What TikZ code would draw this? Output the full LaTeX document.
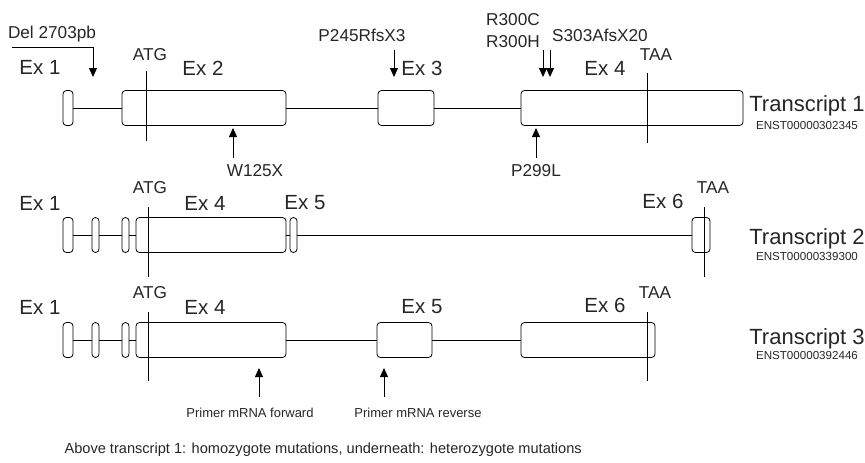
\documentclass[tikz,border=0pt]{standalone}
\usepackage{fontspec}
\setmainfont{Liberation Sans}
\usepackage{tikz}
\usetikzlibrary{arrows.meta,positioning}
\tikzset{
	exon/.style={
		draw, rectangle, rounded corners=3.5pt, line width=0.8pt,
		minimum height=35pt, inner sep=0pt
	},
	intron/.style={line width=0.8pt},
	site_line/.style={line width=0.8pt},
	mut_arrow/.style={-{Triangle[length=9pt,width=8pt]}, line width=0.8pt},
	ex_label/.style={font=\fontsize{20.5}{22}\selectfont, text=black!85},
	site_label/.style={font=\fontsize{17.2}{19}\selectfont, text=black!85},
	tr_label/.style={font=\fontsize{22}{24}\selectfont, text=black!85},
	id_label/.style={font=\fontsize{11.6}{13}\selectfont, text=black!85},
	small_label/.style={font=\fontsize{13}{15}\selectfont, text=black!85},
	note_label/.style={font=\fontsize{14.6}{16}\selectfont, text=black!85}
}
\begin{document}
\begin{tikzpicture}[x=1pt,y=-1pt]
	\useasboundingbox (0,0) rectangle (865,463);
	% transcript 1
	\node[exon,minimum width=10pt]  (t1e1) at (68,108) {};
	\node[exon,minimum width=164pt] (t1e2) at (204,108) {};
	\node[exon,minimum width=56pt]  (t1e3) at (406,108) {};
	\node[exon,minimum width=222pt] (t1e4) at (632,108) {};
	\draw[intron] (t1e1) -- (t1e2) -- (t1e3) -- (t1e4);
	\node[ex_label] (t1x1) at (40,67) {Ex 1};
	\node[ex_label] (t1x2) at (203,68) {Ex 2};
	\node[ex_label] (t1x3) at (422,68) {Ex 3};
	\node[ex_label] (t1x4) at (605,68) {Ex 4};
	\node[site_label] (t1atg) at (150,55) {ATG};
	\node[site_label] (t1taa) at (656,55) {TAA};
	\coordinate (t1atga) at (146,71);  \coordinate (t1atgb) at (146,141);
	\coordinate (t1taaa) at (647,73);  \coordinate (t1taab) at (647,143);
	\draw[site_line] (t1atga) -- (t1atgb);
	\draw[site_line] (t1taaa) -- (t1taab);
	\node[tr_label] (tr1) at (807,106) {Transcript 1};
	\node[id_label] (id1) at (807,126) {ENST00000302345};
	% homozygote mutations
	\node[site_label] (del) at (52,34) {Del 2703pb};
	\coordinate (dela) at (12,47); \coordinate (delb) at (93,47); \coordinate (delc) at (93,77);
	\draw[mut_arrow] (dela) -- (delb) -- (delc);
	\node[site_label] (m245) at (362,35) {P245RfsX3};
	\coordinate (m245a) at (394,50); \coordinate (m245b) at (394,77);
	\draw[mut_arrow] (m245a) -- (m245b);
	\node[site_label] (m300c) at (513,20) {R300C};
	\node[site_label] (m300h) at (513,42) {R300H};
	\coordinate (m300a) at (543,50); \coordinate (m300b) at (543,77);
	\coordinate (m300c2) at (550,50); \coordinate (m300d) at (550,77);
	\draw[mut_arrow] (m300a) -- (m300b);
	\draw[mut_arrow] (m300c2) -- (m300d);
	\node[site_label] (m303) at (600,35) {S303AfsX20};
	% heterozygote mutations
	\node[site_label] (m125) at (255,171) {W125X};
	\coordinate (m125a) at (233,158); \coordinate (m125b) at (233,128);
	\draw[mut_arrow] (m125a) -- (m125b);
	\node[site_label] (m299) at (536,171) {P299L};
	\coordinate (m299a) at (536,158); \coordinate (m299b) at (536,128);
	\draw[mut_arrow] (m299a) -- (m299b);
	% transcript 2
	\node[exon,minimum width=10pt]  (t2e1) at (68,235) {};
	\node[exon,minimum width=7pt]   (t2e2) at (95.5,235) {};
	\node[exon,minimum width=7pt]   (t2e3) at (125.5,235) {};
	\node[exon,minimum width=150pt] (t2e4) at (211,235) {};
	\node[exon,minimum width=7pt]   (t2e5) at (293.5,235) {};
	\node[exon,minimum width=18pt]  (t2e6) at (701,235) {};
	\draw[intron] (t2e1) -- (t2e2) -- (t2e3) -- (t2e4) -- (t2e5) -- (t2e6);
	\node[ex_label] (t2x1) at (40,203) {Ex 1};
	\node[ex_label] (t2x4) at (205,203) {Ex 4};
	\node[ex_label] (t2x5) at (305,203) {Ex 5};
	\node[ex_label] (t2x6) at (663,201) {Ex 6};
	\node[site_label] (t2atg) at (150,188) {ATG};
	\node[site_label] (t2taa) at (713,188) {TAA};
	\coordinate (t2atga) at (148,207); \coordinate (t2atgb) at (148,277);
	\coordinate (t2taaa) at (704,207); \coordinate (t2taab) at (704,277);
	\draw[site_line] (t2atga) -- (t2atgb);
	\draw[site_line] (t2taaa) -- (t2taab);
	\node[tr_label] (tr2) at (807,239) {Transcript 2};
	\node[id_label] (id2) at (807,257) {ENST00000339300};
	% transcript 3
	\node[exon,minimum width=10pt]  (t3e1) at (68,340) {};
	\node[exon,minimum width=7pt]   (t3e2) at (95.5,340) {};
	\node[exon,minimum width=7pt]   (t3e3) at (125.5,340) {};
	\node[exon,minimum width=150pt] (t3e4) at (211,340) {};
	\node[exon,minimum width=55pt]  (t3e5) at (404.5,340) {};
	\node[exon,minimum width=134pt] (t3e6) at (588,340) {};
	\draw[intron] (t3e1) -- (t3e2) -- (t3e3) -- (t3e4) -- (t3e5) -- (t3e6);
	\node[ex_label] (t3x1) at (40,307) {Ex 1};
	\node[ex_label] (t3x4) at (205,307) {Ex 4};
	\node[ex_label] (t3x5) at (422,307) {Ex 5};
	\node[ex_label] (t3x6) at (605,305) {Ex 6};
	\node[site_label] (t3atg) at (150,293) {ATG};
	\node[site_label] (t3taa) at (655,293) {TAA};
	\coordinate (t3atga) at (148,312); \coordinate (t3atgb) at (148,381);
	\coordinate (t3taaa) at (647,312); \coordinate (t3taab) at (647,381);
	\draw[site_line] (t3atga) -- (t3atgb);
	\draw[site_line] (t3taaa) -- (t3taab);
	\node[tr_label] (tr3) at (807,339) {Transcript 3};
	\node[id_label] (id3) at (807,356) {ENST00000392446};
	% primers
	\node[small_label] (pfw) at (250,413) {Primer mRNA forward};
	\node[small_label] (prv) at (418,413) {Primer mRNA reverse};
	\coordinate (pfwa) at (259,397); \coordinate (pfwb) at (259,368);
	\coordinate (prva) at (384,397); \coordinate (prvb) at (384,368);
	\draw[mut_arrow] (pfwa) -- (pfwb);
	\draw[mut_arrow] (prva) -- (prvb);
	\node[note_label,anchor=west] (note) at (61,450) {Above transcript 1: homozygote mutations, underneath: heterozygote mutations};
\end{tikzpicture}
\end{document}
